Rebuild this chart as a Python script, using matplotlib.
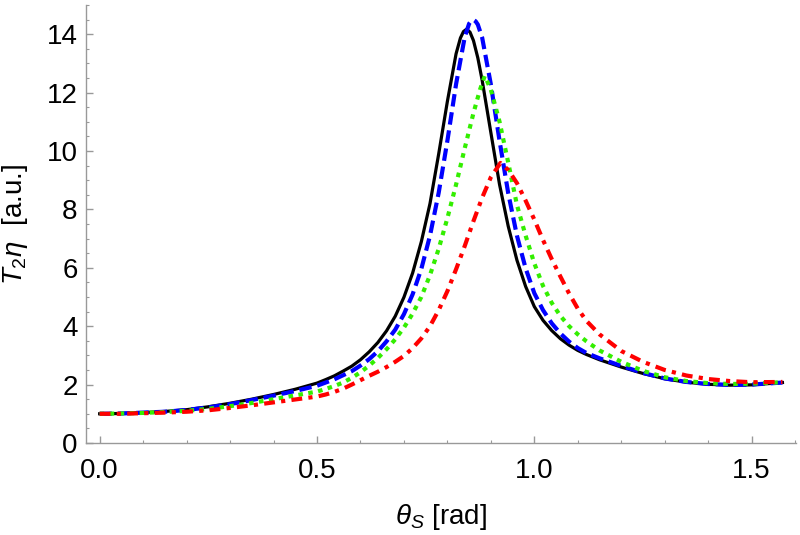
import numpy as np
import matplotlib.pyplot as plt

# values
x_black = [0.0, 0.05, 0.1, 0.15, 0.2, 0.25, 0.3, 0.35, 0.4, 0.45, 0.5, 0.52, 0.54, 0.56, 0.58, 0.6, 0.62, 0.64,
           0.66, 0.68, 0.7, 0.72, 0.74, 0.76, 0.78, 0.8, 0.82, 0.83, 0.837, 0.844, 0.852, 0.86, 0.87, 0.88, 0.9,
           0.92, 0.94, 0.96, 0.98, 1.0, 1.02, 1.04, 1.06, 1.08, 1.1, 1.12, 1.15, 1.2, 1.25, 1.3, 1.35, 1.4,
           1.45, 1.5, 1.5708]
y_black = [1.0, 1.01, 1.04, 1.08, 1.14, 1.24, 1.36, 1.5, 1.66, 1.84, 2.05, 2.17, 2.3, 2.46, 2.63, 2.85, 3.12, 3.44,
           3.84, 4.34, 4.99, 5.82, 6.89, 8.2, 9.9, 11.7, 13.33, 13.87, 14.09, 14.17, 14.07, 13.78, 13.19, 12.42, 10.63,
           8.85, 7.42, 6.26, 5.36, 4.67, 4.2, 3.85, 3.57, 3.35, 3.17, 3.03, 2.85, 2.6, 2.38, 2.2, 2.08, 2.01,
           1.98, 1.99, 2.07]

x_blue = [0.0, 0.05, 0.1, 0.15, 0.2, 0.25, 0.3, 0.35, 0.4, 0.45, 0.5, 0.52, 0.54, 0.56, 0.58, 0.6, 0.62, 0.64,
          0.66, 0.68, 0.7, 0.72, 0.74, 0.76, 0.78, 0.8, 0.82, 0.84, 0.85, 0.855, 0.86, 0.865, 0.87, 0.88, 0.9,
          0.92, 0.94, 0.96, 0.98, 1.0, 1.02, 1.04, 1.06, 1.08, 1.1, 1.12, 1.15, 1.2, 1.25, 1.3, 1.35, 1.4,
          1.45, 1.5, 1.5708]
y_blue = [1.0, 1.01, 1.04, 1.07, 1.13, 1.22, 1.33, 1.47, 1.62, 1.78, 1.96, 2.07, 2.18, 2.32, 2.46, 2.65, 2.87, 3.14,
          3.48, 3.88, 4.41, 5.09, 5.96, 7.1, 8.57, 10.35, 12.29, 13.91, 14.36, 14.46, 14.49, 14.44, 14.33, 13.88, 12.28,
          10.35, 8.55, 7.1, 5.98, 5.13, 4.55, 4.1, 3.75, 3.47, 3.25, 3.08, 2.9, 2.64, 2.4, 2.21, 2.09, 2.02,
          1.99, 2.0, 2.07]

x_green = [0.0, 0.05, 0.1, 0.15, 0.2, 0.25, 0.3, 0.35, 0.4, 0.45, 0.5, 0.52, 0.54, 0.56, 0.58, 0.6, 0.62, 0.64,
           0.66, 0.68, 0.7, 0.72, 0.74, 0.76, 0.78, 0.8, 0.82, 0.84, 0.86, 0.875, 0.886, 0.9, 0.92, 0.94, 0.96,
           0.98, 1.0, 1.02, 1.04, 1.06, 1.08, 1.1, 1.12, 1.15, 1.2, 1.25, 1.3, 1.35, 1.4, 1.45, 1.5, 1.5708]
y_green = [1.0, 1.01, 1.03, 1.06, 1.1, 1.17, 1.26, 1.37, 1.5, 1.63, 1.76, 1.85, 1.95, 2.07, 2.23, 2.42, 2.65, 2.91,
           3.21, 3.55, 3.95, 4.43, 5.0, 5.75, 6.65, 7.7, 8.85, 10.1, 11.3, 12.1, 12.57, 12.1, 11.0, 9.6, 8.15,
           7.1, 6.15, 5.38, 4.8, 4.35, 4.0, 3.72, 3.48, 3.17, 2.78, 2.47, 2.25, 2.12, 2.05, 2.02, 2.03, 2.08]

x_red = [0.0, 0.05, 0.1, 0.15, 0.2, 0.25, 0.3, 0.35, 0.4, 0.45, 0.5, 0.52, 0.54, 0.56, 0.58, 0.6, 0.62, 0.64,
         0.66, 0.68, 0.7, 0.72, 0.74, 0.76, 0.78, 0.8, 0.82, 0.84, 0.86, 0.88, 0.9, 0.922, 0.94, 0.96, 0.98,
         1.0, 1.02, 1.04, 1.06, 1.08, 1.1, 1.12, 1.15, 1.2, 1.25, 1.3, 1.35, 1.4, 1.45, 1.5, 1.5708]
y_red = [1.0, 1.0, 1.02, 1.04, 1.07, 1.12, 1.2, 1.29, 1.39, 1.49, 1.59, 1.66, 1.75, 1.86, 2.0, 2.15, 2.3, 2.44,
         2.6, 2.78, 2.98, 3.25, 3.58, 4.0, 4.55, 5.2, 5.95, 6.75, 7.6, 8.4, 9.1, 9.59, 9.35, 8.9, 8.3,
         7.65, 6.95, 6.3, 5.7, 5.12, 4.6, 4.18, 3.72, 3.15, 2.78, 2.5, 2.31, 2.19, 2.12, 2.08, 2.09]

x_ticks = [0.0, 0.5, 1.0, 1.5]
y_ticks = [0, 2, 4, 6, 8, 10, 12, 14]

plt.rcParams['font.family'] = ['Liberation Sans', 'DejaVu Sans']
plt.rcParams['mathtext.fontset'] = 'custom'
plt.rcParams['mathtext.rm'] = 'Liberation Sans'
plt.rcParams['mathtext.it'] = 'Liberation Sans:italic'

fig = plt.figure(figsize=(8, 5.35), dpi=100)
ax = fig.add_axes([0.1075, 0.172, 0.8875, 0.8187])

ax.plot(x_black, y_black, color='black', lw=2.3, solid_joinstyle='round')
ax.plot(x_blue, y_blue, color='#0000ff', lw=3.0, dashes=(3.0, 1.4))
ax.plot(x_green, y_green, color='#33ee00', lw=3.0, dashes=(1.1, 1.3))
ax.plot(x_red, y_red, color='#ff0000', lw=3.0, dashes=(2.6, 1.5, 1.0, 1.5))

ax.set_xlim(-0.0314, 1.602)
ax.set_ylim(0, 15)
ax.set_xticks(x_ticks)
ax.set_xticklabels(['0.0', '0.5', '1.0', '1.5'])
ax.set_yticks(y_ticks)
ax.set_xticks(np.arange(0, 1.61, 0.1), minor=True)
ax.set_yticks(np.arange(0, 15.01, 0.5), minor=True)

for s in ['top', 'right']:
    ax.spines[s].set_visible(False)
for s in ['left', 'bottom']:
    ax.spines[s].set_color('#999999')
    ax.spines[s].set_linewidth(1.0)

ax.tick_params(which='both', direction='in', color='#999999', labelsize=20)
ax.tick_params(which='major', length=5, width=1.0)
ax.tick_params(which='minor', length=2.5, width=0.8)
ax.tick_params(axis='x', pad=11)
ax.tick_params(axis='y', pad=6)

ax.set_xlabel(r'$\theta_S$ [rad]', fontsize=20, labelpad=13)
ax.set_ylabel(r'$T_2\eta$  [a.u.]', fontsize=20, labelpad=12)

fig.savefig('out.png', dpi=100)
